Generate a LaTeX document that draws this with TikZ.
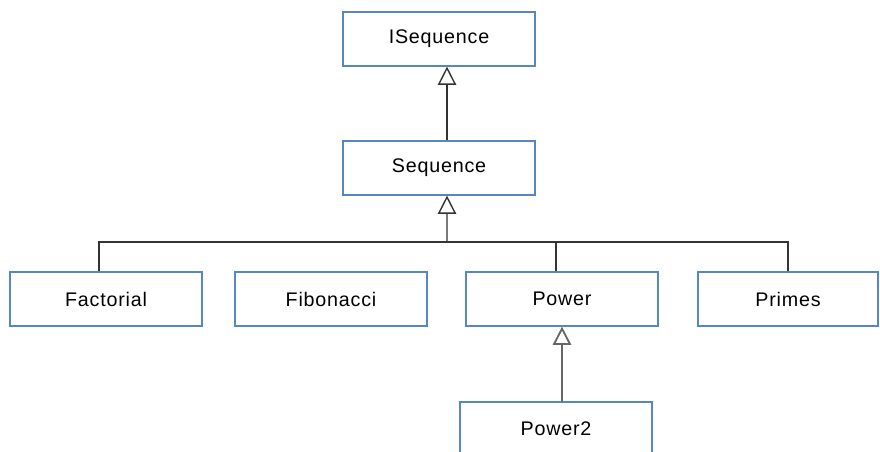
\documentclass[tikz,border=0pt]{standalone}
\usepackage{fontspec}
\setmainfont[LetterSpace=4]{Liberation Sans}
\usetikzlibrary{arrows.meta}
\definecolor{boxblue}{RGB}{88,134,196}
\definecolor{linegray}{RGB}{51,51,51}
\definecolor{lightgray}{RGB}{102,102,102}
\tikzset{
  classbox/.style={draw=boxblue, line width=0.8pt, fill=white, minimum width=4.8cm, minimum height=1.35cm, font=\fontsize{14}{16}\selectfont},
  link/.style={draw=linegray, line width=1pt},
  inherit/.style={link, -{Triangle[open, length=13pt, width=13pt]}},
}
\begin{document}
\begin{tikzpicture}[x=0.025cm, y=-0.025cm]
            \fill[white] (0,0) rectangle (880,452);
            \useasboundingbox (0,0) rectangle (880,452);
            \clip (0,0) rectangle (880,452);
            \node[classbox] (iseq) at (439,39) {ISequence};
            \node[classbox] (seq) at (439,168) {Sequence};
            \node[classbox] (fact) at (106,299) {Factorial};
            \node[classbox] (fib) at (331,299) {Fibonacci};
            \node[classbox] (pow) at (562,299) {Power};
            \node[classbox, minimum width=4.5cm] (prim) at (788,299) {Primes};
            \node[classbox] (pow2) at (556,429) {Power2};
            \coordinate (bus) at (447,242);
            \coordinate (facttop) at ([xshift=-0.175cm]fact.north);
            \coordinate (powtop) at ([xshift=-0.15cm]pow.north);
            \draw[inherit] ([xshift=0.2cm]seq.north) -- ([xshift=0.2cm]iseq.south);
            \draw[inherit] (bus) -- ([xshift=0.2cm]seq.south);
            \draw[link] (facttop) |- (bus) -| (prim.north);
            \draw[link] (powtop) -- (powtop |- bus);
            \draw[inherit, draw=lightgray, line width=1.3pt] ([xshift=0.15cm]pow2.north) -- (pow.south);
        \end{tikzpicture}
\end{document}
